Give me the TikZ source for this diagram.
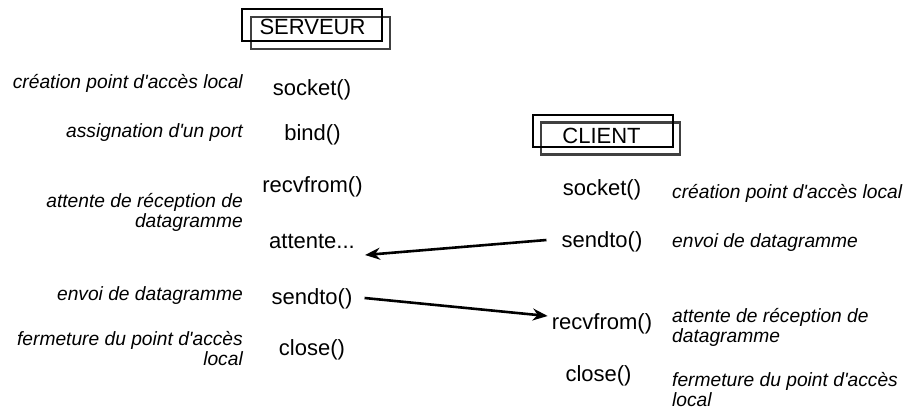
\documentclass[tikz,border=0pt]{standalone}
\usepackage{fontspec}
\setmainfont{Liberation Sans}[Ligatures=TeXOff]
\usetikzlibrary{arrows.meta,calc}
\newcommand{\callfnt}{\fontsize{22}{24}\selectfont}
\newcommand{\lblfnt}{\itshape\fontsize{19.2}{19.5}\selectfont}
\begin{document}
\begin{tikzpicture}[x=1pt,y=-1pt,
  call/.style={font=\callfnt, inner sep=0pt, anchor=base},
  lblL/.style={font=\lblfnt, inner sep=0pt, anchor=base east, align=right},
  lblR/.style={font=\lblfnt, inner sep=0pt, anchor=base west, align=left},
  frameA/.style={draw=black, line width=2.8pt, minimum width=140pt, minimum height=32pt, inner sep=0pt},
  frameB/.style={draw=black!75, line width=2.4pt, minimum width=139pt, minimum height=32pt, inner sep=0pt},
  msg/.style={line width=2.6pt, -{Stealth[length=15pt,width=12pt,inset=5pt]}}]
\useasboundingbox (0,0) rectangle (905,409);
% SERVEUR title
\node[frameB] (srvB) at (320.5,33) {};
\node[frameA] (srvA) at (312,25) {};
\node[call] (srv) at (312.5,35) {SERVEUR};
% CLIENT title
\node[frameB] (cliB) at (610.5,138.5) {};
\node[frameA] (cliA) at (603,131) {};
\node[call] (cli) at (601.5,143) {CLIENT};
% server calls
\node[call] (ssock) at (312,96) {socket()};
\node[call] (sbind) at (312.5,141) {bind()};
\node[call] (srecv) at (312.5,192) {recvfrom()};
\node[call] (swait) at (312,248) {attente...};
\node[call] (ssend) at (312,304) {sendto()};
\node[call] (sclose) at (312,355) {close()};
% server labels
\node[lblL] (ls1) at (243,89) {création point d'accès local};
\node[lblL] (ls2) at (243,138) {assignation d'un port};
\node[lblL] (ls3) at (243,227) {attente de réception de\\datagramme};
\node[lblL] (ls4) at (243,300) {envoi de datagramme};
\node[lblL] (ls5) at (243,365) {fermeture du point d'accès\\local};
% client calls
\node[call] (csock) at (602,195) {socket()};
\node[call] (csend) at (602,247) {sendto()};
\node[call] (crecv) at (602,329) {recvfrom()};
\node[call] (cclose) at (598.5,381) {close()};
% client labels
\node[lblR] (lc1) at (672,198) {création point d'accès local};
\node[lblR] (lc2) at (672,247) {envoi de datagramme};
\node[lblR] (lc3) at (672,342) {attente de réception de\\datagramme};
\node[lblR] (lc4) at (672,406) {fermeture du point d'accès\\local};
% messages
\draw[msg] ($(csend.base west)+(-15,-7)$) -- ($(swait.base east)+(10,7)$);
\draw[msg] ($(ssend.base east)+(12,-6)$) -- ($(crecv.base west)+(-4,-13)$);
\end{tikzpicture}
\end{document}
